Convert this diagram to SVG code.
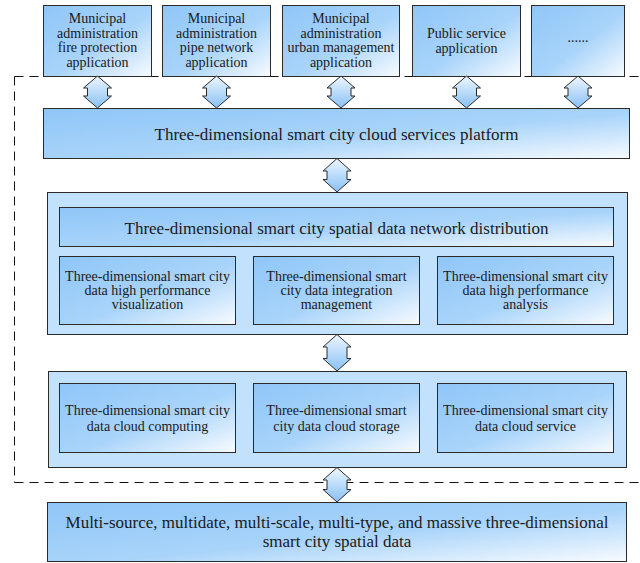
<svg xmlns="http://www.w3.org/2000/svg" width="640" height="563" viewBox="0 0 640 563" font-family="'Liberation Serif', 'DejaVu Serif', 'Times New Roman', serif">
<defs>
<linearGradient id="boxGrad" x1="0" y1="0" x2="1" y2="1">
<stop offset="0" stop-color="#8fc6f8"/>
<stop offset="0.55" stop-color="#a9d4fa"/>
<stop offset="1" stop-color="#f7fbff"/>
</linearGradient>
<linearGradient id="arrowGrad" x1="0" y1="0" x2="0" y2="1">
<stop offset="0" stop-color="#eef6ff"/>
<stop offset="1" stop-color="#88c1f5"/>
</linearGradient>
<style>
.box{fill:url(#boxGrad);stroke:#2b2b2b;stroke-width:1}
.cont{fill:#c2e1fc;stroke:#2b2b2b;stroke-width:1}
.arr{fill:url(#arrowGrad);stroke:#2b2b2b;stroke-width:1;stroke-linejoin:miter}
.dash{fill:none;stroke:#111;stroke-width:1;stroke-dasharray:9 6}
text{font-family:'Liberation Serif','DejaVu Serif','Times New Roman',serif;fill:#1a1a1a;text-anchor:middle}
.s{font-size:14px}
.l{font-size:17px}
</style>
</defs>
<rect width="640" height="563" fill="#ffffff"/>
<g id="boundary">
<path class="dash" d="M14.5,76.5 H640 M14.5,76.5 V482.5 M14.5,482.5 H640"/>
</g>
<g id="app-fire">
<rect class="box" x="43.5" y="5.5" width="108" height="71"/>
<text class="s" x="97.5" y="23">Municipal</text>
<text class="s" x="97.5" y="37.5">administration</text>
<text class="s" x="97.5" y="52">fire protection</text>
<text class="s" x="97.5" y="66.5">application</text>
</g>
<g id="app-pipe">
<rect class="box" x="162.5" y="5.5" width="108" height="71"/>
<text class="s" x="216.5" y="23">Municipal</text>
<text class="s" x="216.5" y="37.5">administration</text>
<text class="s" x="216.5" y="52">pipe network</text>
<text class="s" x="216.5" y="66.5">application</text>
</g>
<g id="app-urban">
<rect class="box" x="282.5" y="5.5" width="117" height="71"/>
<text class="s" x="341" y="23">Municipal</text>
<text class="s" x="341" y="37.5">administration</text>
<text class="s" x="341" y="52">urban management</text>
<text class="s" x="341" y="66.5">application</text>
</g>
<g id="app-public">
<rect class="box" x="412.5" y="5.5" width="108" height="71"/>
<text class="s" x="466.5" y="38">Public service</text>
<text class="s" x="466.5" y="53">application</text>
</g>
<g id="app-more">
<rect class="box" x="531.5" y="5.5" width="93" height="71"/>
<text class="s" x="578" y="42">......</text>
</g>
<g id="platform">
<rect class="box" x="43.5" y="108.5" width="586" height="50"/>
<text class="l" x="336.5" y="140">Three-dimensional smart city cloud services platform</text>
</g>
<g id="network-layer">
<rect class="cont" x="47.5" y="192.5" width="580" height="142"/>
<g id="distribution">
<rect class="box" x="59.5" y="207.5" width="554" height="39"/>
<text class="l" x="336.5" y="234">Three-dimensional smart city spatial data network distribution</text>
</g>
<g id="visualization">
<rect class="box" x="59.5" y="256.5" width="176" height="68"/>
<text class="s" x="147.5" y="281">Three-dimensional smart city</text>
<text class="s" x="147.5" y="295">data high performance</text>
<text class="s" x="147.5" y="309">visualization</text>
</g>
<g id="integration">
<rect class="box" x="253.5" y="256.5" width="166" height="68"/>
<text class="s" x="336.5" y="281">Three-dimensional smart</text>
<text class="s" x="336.5" y="295">city data integration</text>
<text class="s" x="336.5" y="309">management</text>
</g>
<g id="analysis">
<rect class="box" x="437.5" y="256.5" width="176" height="68"/>
<text class="s" x="525.5" y="281">Three-dimensional smart city</text>
<text class="s" x="525.5" y="295">data high performance</text>
<text class="s" x="525.5" y="309">analysis</text>
</g>
</g>
<g id="cloud-layer">
<rect class="cont" x="48.5" y="371.5" width="578" height="96"/>
<g id="computing">
<rect class="box" x="59.5" y="383.5" width="176" height="69"/>
<text class="s" x="147.5" y="415">Three-dimensional smart city</text>
<text class="s" x="147.5" y="431">data cloud computing</text>
</g>
<g id="storage">
<rect class="box" x="253.5" y="383.5" width="166" height="69"/>
<text class="s" x="336.5" y="415">Three-dimensional smart</text>
<text class="s" x="336.5" y="431">city data cloud storage</text>
</g>
<g id="service">
<rect class="box" x="437.5" y="383.5" width="176" height="69"/>
<text class="s" x="525.5" y="415">Three-dimensional smart city</text>
<text class="s" x="525.5" y="431">data cloud service</text>
</g>
</g>
<g id="data-source">
<rect class="box" x="47.5" y="502.5" width="579" height="59"/>
<text class="l" x="337" y="528">Multi-source, multidate, multi-scale, multi-type, and massive three-dimensional</text>
<text class="l" x="337" y="547">smart city spatial data</text>
</g>
<g id="connectors">
<path class="arr" d="M97.5,76 L111.5,88 L107.5,88 L107.5,96 L111.5,96 L97.5,108 L83.5,96 L87.5,96 L87.5,88 L83.5,88 Z"/>
<path class="arr" d="M216.5,76 L230.5,88 L226.5,88 L226.5,96 L230.5,96 L216.5,108 L202.5,96 L206.5,96 L206.5,88 L202.5,88 Z"/>
<path class="arr" d="M341,76 L355,88 L351,88 L351,96 L355,96 L341,108 L327,96 L331,96 L331,88 L327,88 Z"/>
<path class="arr" d="M466.5,76 L480.5,88 L476.5,88 L476.5,96 L480.5,96 L466.5,108 L452.5,96 L456.5,96 L456.5,88 L452.5,88 Z"/>
<path class="arr" d="M578,76 L592,88 L588,88 L588,96 L592,96 L578,108 L564,96 L568,96 L568,88 L564,88 Z"/>
<path class="arr" d="M337,158.5 L351,171 L347,171 L347,179.5 L351,179.5 L337,192 L323,179.5 L327,179.5 L327,171 L323,171 Z"/>
<path class="arr" d="M337,334.5 L351,347 L347,347 L347,358.5 L351,358.5 L337,371 L323,358.5 L327,358.5 L327,347 L323,347 Z"/>
<path class="arr" d="M337,467.5 L351,480 L347,480 L347,489.5 L351,489.5 L337,502 L323,489.5 L327,489.5 L327,480 L323,480 Z"/>
</g>
</svg>
